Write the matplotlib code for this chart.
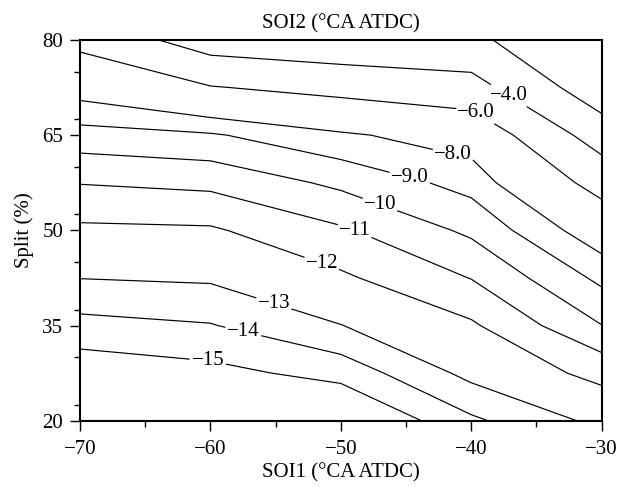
import numpy as np
import matplotlib
matplotlib.use('Agg')
import matplotlib.pyplot as plt
from matplotlib.ticker import MultipleLocator

plt.rcParams['font.family'] = ['Liberation Serif', 'DejaVu Serif']
plt.rcParams['axes.unicode_minus'] = True

# grid of the response surface
soi1 = [-70, -60, -50, -40, -30]
split = [20, 27.5, 35, 42.5, 50, 57.5, 65, 72.5, 80]

# response at each split value, one list per SOI1 column
z_soi1_m70 = [-17.05, -15.69, -14.33, -12.98, -12.20, -10.96, -9.42, -7.47, -5.50]
z_soi1_m60 = [-16.58, -15.32, -14.06, -12.86, -12.13, -10.75, -9.12, -6.10, -3.01]
z_soi1_m50 = [-16.31, -14.64, -13.02, -12.17, -11.14, -9.78, -8.18, -5.42, -2.50]
z_soi1_m40 = [-14.19, -12.70, -12.15, -10.97, -9.80, -8.63, -7.40, -4.75, -2.40]
z_soi1_m30 = [-12.72, -11.75, -10.02, -8.76, -7.26, -5.33, -3.05, -0.74, 0.00]

levels = [-15, -14, -13, -12, -11, -10, -9, -8, -6, -4, -2]
label_levels = [-15, -14, -13, -12, -11, -10, -9, -8, -6, -4]
label_text = ['\u221215', '\u221214', '\u221213', '\u221212', '\u221211',
              '\u221210', '\u22129.0', '\u22128.0', '\u22126.0', '\u22124.0']
label_x = [-60.2, -57.5, -55.3, -51.6, -48.8, -47.1, -44.8, -41.4, -39.7, -37.1]
label_y = [29.45, 33.9, 37.4, 44.0, 50.6, 53.5, 57.7, 61.9, 68.2, 71.3]

Z = np.column_stack([z_soi1_m70, z_soi1_m60, z_soi1_m50, z_soi1_m40, z_soi1_m30])

fig = plt.figure(figsize=(6.2, 4.87), dpi=100)
ax = fig.add_axes([0.129, 0.136, 0.8415, 0.782])

cs = ax.contour(soi1, split, Z, levels=levels, colors='black',
                linewidths=0.85, linestyles='solid')
fmt = dict(zip(label_levels, label_text))
texts = ax.clabel(cs, levels=label_levels, fmt=fmt, inline=True, inline_spacing=2,
                  fontsize=15, manual=list(zip(label_x, label_y)))
for t in texts:
    t.set_rotation(0)

ax.set_xlim(-70, -30)
ax.set_ylim(20, 80)
ax.xaxis.set_major_locator(MultipleLocator(10))
ax.xaxis.set_minor_locator(MultipleLocator(5))
ax.set_yticks([20, 35, 50, 65, 80])
ax.yaxis.set_minor_locator(MultipleLocator(7.5))
ax.tick_params(which='major', direction='out', length=7, width=1, labelsize=15, pad=5)
ax.tick_params(axis='x', which='major', pad=7)
ax.tick_params(which='minor', direction='out', length=4, width=1)
for s in ax.spines.values():
    s.set_linewidth(1.5)

ax.set_title('SOI2 (\u00b0CA ATDC)', fontsize=15, pad=8)
ax.set_xlabel('SOI1 (\u00b0CA ATDC)', fontsize=15, labelpad=3)
ax.set_ylabel('Split (%)', fontsize=15, labelpad=6)

fig.savefig('out.png', dpi=100)
